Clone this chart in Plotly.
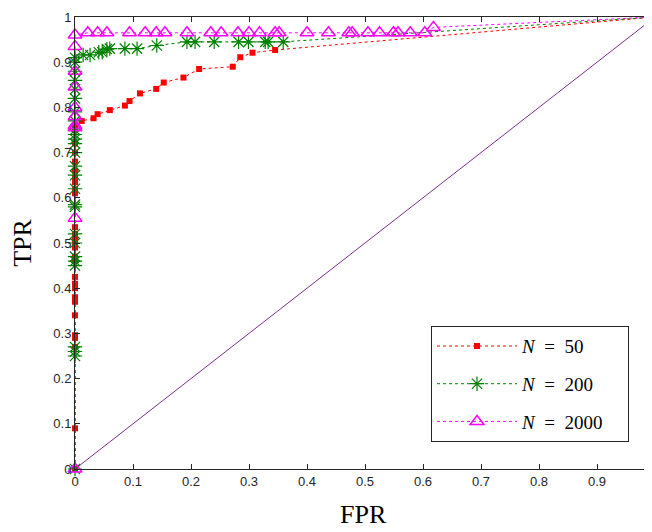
import plotly.graph_objects as go

# ---- data ----
n50_fpr = [0]*28 + [0.0115, 0.032, 0.039, 0.060, 0.086, 0.094, 0.112, 0.140, 0.153, 0.187,
                    0.214, 0.272, 0.285, 0.306, 0.345, 1.0]
n50_tpr = [0, 0.09, 0.27, 0.29, 0.296, 0.34, 0.37, 0.38, 0.40, 0.41, 0.425, 0.46, 0.47, 0.49,
           0.50, 0.51, 0.52, 0.535, 0.61, 0.62, 0.635, 0.645, 0.66, 0.68, 0.70, 0.72, 0.75, 0.76,
           0.770, 0.776, 0.785, 0.794, 0.804, 0.814, 0.831, 0.841, 0.855, 0.866,
           0.885, 0.890, 0.911, 0.921, 0.927, 1.0]

n200_fpr = [0]*27 + [0.014, 0.026, 0.041, 0.047, 0.055, 0.060, 0.086, 0.107, 0.141, 0.193,
                     0.207, 0.240, 0.282, 0.299, 0.328, 0.333, 0.359, 1.0]
n200_tpr = [0, 0.25, 0.26, 0.27, 0.45, 0.46, 0.47, 0.50, 0.52, 0.58, 0.585, 0.62, 0.65, 0.67,
            0.70, 0.72, 0.73, 0.74, 0.75, 0.77, 0.79, 0.82, 0.84, 0.86, 0.88, 0.90, 0.91,
            0.916, 0.916, 0.922, 0.922, 0.929, 0.930, 0.930, 0.930, 0.937, 0.945,
            0.945, 0.945, 0.945, 0.945, 0.945, 0.945, 0.945, 1.0]

n2000_fpr = [0]*10 + [0.022, 0.039, 0.055, 0.094, 0.121, 0.140, 0.155, 0.193, 0.234, 0.252,
                      0.281, 0.300, 0.318, 0.345, 0.352, 0.400, 0.437, 0.472, 0.478, 0.505,
                      0.525, 0.549, 0.557, 0.578, 0.603, 0.618, 1.0]
n2000_tpr = [0, 0.555, 0.755, 0.76, 0.78, 0.80, 0.845, 0.88, 0.935, 0.96] + [0.965]*25 + [0.977, 1.0]

diag_x = [0, 1]
diag_y = [0, 1]

x_ticks = [0, 0.1, 0.2, 0.3, 0.4, 0.5, 0.6, 0.7, 0.8, 0.9, 1]
x_ticklabels = ["0", "0.1", "0.2", "0.3", "0.4", "0.5", "0.6", "0.7", "0.8", "0.9", "1"]

x_title = "FPR"
y_title = "TPR"

serif = "Liberation Serif, DejaVu Serif, serif"
sans = "Liberation Sans, Arial, sans-serif"
axc = "#262626"

# The page body has an 8px margin; the plot area runs past the right window edge
X_MAX = 0.9948

fig = go.Figure()
fig.add_trace(go.Scatter(x=diag_x, y=diag_y, mode="lines", showlegend=False,
                         line=dict(color="#7E2F8E", width=1), cliponaxis=False))
fig.add_trace(go.Scatter(x=n50_fpr, y=n50_tpr, mode="lines+markers",
                         name="<i>N</i>\u2002=\u200250\u00a0\u00a0\u00a0",
                         legendgroup="a",
                         line=dict(color="#FF0000", width=1, dash="dot"),
                         marker=dict(symbol="square", size=6, color="#FF0000"), cliponaxis=False))
fig.add_trace(go.Scatter(x=n200_fpr, y=n200_tpr, mode="lines+markers",
                         name="<i>N</i>\u2002=\u2002200",
                         legendgroup="b",
                         line=dict(color="#008000", width=1, dash="dot"),
                         marker=dict(symbol="asterisk-open", size=12,
                                     line=dict(color="#008000", width=1.2)), cliponaxis=False))
fig.add_trace(go.Scatter(x=n2000_fpr, y=n2000_tpr, mode="lines+markers",
                         name="<i>N</i>\u2002=\u20022000\u00a0\u00a0\u00a0\u00a0",
                         legendgroup="c",
                         line=dict(color="#FF00FF", width=1, dash="dot"),
                         marker=dict(symbol="triangle-up-open", size=12, color="#FF00FF",
                                     line=dict(color="#FF00FF", width=1.5)), cliponaxis=False))

fig.add_annotation(x=1, y=0, xref="x", yref="y", text="1", showarrow=False,
                   yanchor="top", yshift=-3, font=dict(family=sans, size=13, color=axc))
fig.add_annotation(x=0.5, y=0, xref="paper", yref="paper", text=x_title, showarrow=False,
                   xanchor="center", yanchor="middle", yshift=-45,
                   font=dict(family=serif, size=26, color="black"))

fig.update_layout(
    width=644, height=524,
    margin=dict(l=67, r=0, t=9, b=63),
    plot_bgcolor="white", paper_bgcolor="white",
    xaxis=dict(range=[0, X_MAX], tickvals=x_ticks, ticktext=x_ticklabels,
               showgrid=False, zeroline=False, automargin=False,
               showline=True, linecolor=axc, linewidth=1, mirror="ticks",
               ticks="inside", ticklen=5, tickcolor=axc,
               tickfont=dict(family=sans, size=13, color=axc)),
    yaxis=dict(range=[0, 1], dtick=0.1, tick0=0, showgrid=False, zeroline=False, automargin=False,
               showline=True, linecolor=axc, linewidth=1, mirror="ticks",
               ticks="inside", ticklen=5, tickcolor=axc,
               tickfont=dict(family=sans, size=13, color=axc),
               title=dict(text=y_title, font=dict(family=serif, size=26, color="black"), standoff=21)),
    legend=dict(x=0.617, y=0.316, xanchor="left", yanchor="top",
                bgcolor="white", bordercolor=axc, borderwidth=1,
                font=dict(family=serif, size=19, color="black"),
                itemwidth=80, tracegroupgap=10),
)

fig.write_html("out.html")
